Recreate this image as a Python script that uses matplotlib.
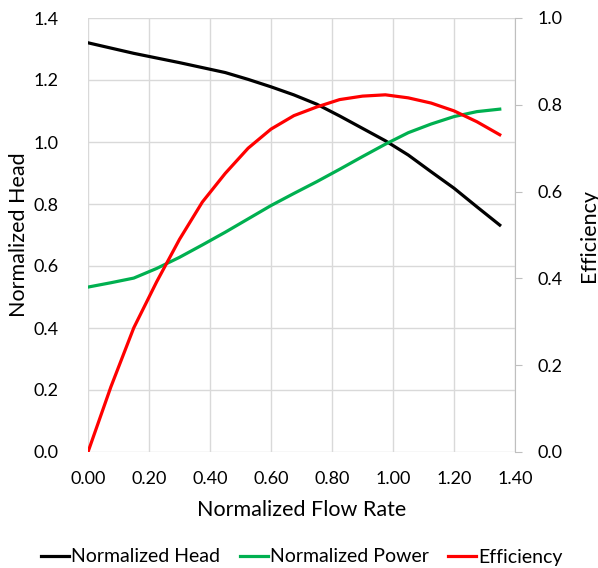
import matplotlib.pyplot as plt
from matplotlib.ticker import FormatStrFormatter

flow = [0.0, 0.075, 0.15, 0.225, 0.30, 0.375, 0.45, 0.525, 0.60, 0.675,
        0.75, 0.825, 0.90, 0.975, 1.05, 1.125, 1.20, 1.275, 1.35]
head = [1.32, 1.303, 1.286, 1.271, 1.256, 1.240, 1.224, 1.202, 1.178, 1.152,
        1.122, 1.084, 1.044, 1.004, 0.958, 0.904, 0.851, 0.791, 0.732]
power = [0.532, 0.546, 0.561, 0.592, 0.628, 0.668, 0.709, 0.752, 0.795, 0.834,
         0.872, 0.912, 0.953, 0.993, 1.030, 1.058, 1.082, 1.098, 1.106]
efficiency = [0.0, 0.150, 0.286, 0.392, 0.490, 0.576, 0.642, 0.700, 0.744, 0.775,
              0.795, 0.812, 0.820, 0.823, 0.816, 0.804, 0.786, 0.761, 0.731]

font = "Lato"
grid_c = "#d9d9d9"

fig = plt.figure(figsize=(5.98, 5.68), dpi=100)
ax = fig.add_axes([88 / 598, 1 - 452 / 568, 427 / 598, 434 / 568])
ax2 = ax.twinx()

l1, = ax.plot(flow, head, color="black", lw=2.3, label="Normalized Head")
l2, = ax.plot(flow, power, color="#00b050", lw=2.3, label="Normalized Power")
l3, = ax2.plot(flow, efficiency, color="#ff0000", lw=2.3, label="Efficiency")

ax.set_xlim(0, 1.40)
ax.set_ylim(0, 1.4)
ax2.set_ylim(0, 1.0)
ax.set_xticks([i * 0.2 for i in range(8)])
ax.set_yticks([i * 0.2 for i in range(8)])
ax2.set_yticks([i * 0.2 for i in range(6)])
ax.xaxis.set_major_formatter(FormatStrFormatter("%.2f"))
ax.yaxis.set_major_formatter(FormatStrFormatter("%.1f"))
ax2.yaxis.set_major_formatter(FormatStrFormatter("%.1f"))

ax.grid(True, color=grid_c, lw=1)
ax.set_axisbelow(True)
for a in (ax, ax2):
    for s in a.spines.values():
        s.set_visible(False)
ax2.spines["right"].set_visible(True)
ax2.spines["right"].set_color("#bfbfbf")
ax.tick_params(axis="both", length=0, labelsize=13)
ax.tick_params(axis="y", pad=21)
ax.tick_params(axis="x", pad=14)
ax2.tick_params(axis="y", length=5, color="#bfbfbf", labelsize=13, pad=11)
for lab in ax.get_xticklabels() + ax.get_yticklabels() + ax2.get_yticklabels():
    lab.set_fontfamily(font)

ax.set_xlabel("Normalized Flow Rate", fontsize=15.5, family=font, labelpad=9)
ax.set_ylabel("Normalized Head", fontsize=15.5, family=font)
ax2.set_ylabel("Efficiency", fontsize=15.5, family=font)
ax.yaxis.set_label_coords(-0.138, 0.5)
ax2.yaxis.set_label_coords(1.150, 0.5)

fig.legend(handles=[l1, l2, l3], loc="center", bbox_to_anchor=(0.505, 1 - 557 / 568),
           ncol=3, frameon=False, handlelength=1.45, handletextpad=0.1,
           columnspacing=1.0, prop={"family": font, "size": 14})

fig.savefig("out.png", dpi=100)
